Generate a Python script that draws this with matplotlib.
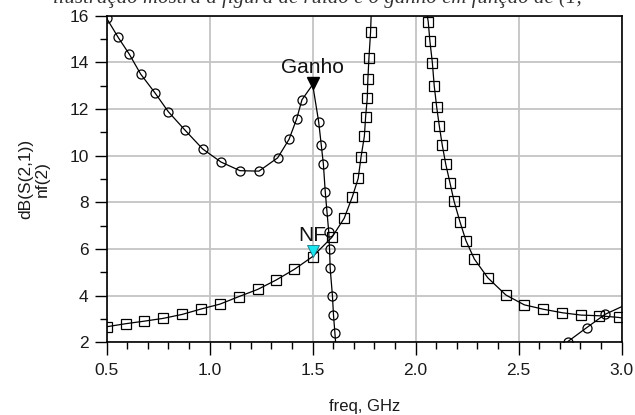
import matplotlib
matplotlib.use("Agg")
import matplotlib.pyplot as plt
import matplotlib.transforms as mtransforms
import numpy as np

plt.rcParams['font.family'] = ['Liberation Sans', 'DejaVu Sans']

# dB(S(2,1)) -- "Ganho" (circles); first/last points of a branch may be clip ends
gain1_f = [0.500, 0.556, 0.610, 0.665, 0.734, 0.799, 0.880, 0.966, 1.055, 1.147,
           1.239, 1.330, 1.385, 1.422, 1.448, 1.500, 1.529, 1.542, 1.552, 1.561,
           1.569, 1.578, 1.582, 1.585, 1.596, 1.601, 1.608, 1.613]
gain1_db = [15.89, 15.07, 14.35, 13.50, 12.70, 11.89, 11.10, 10.29, 9.73, 9.36,
            9.34, 9.91, 10.70, 11.57, 12.40, 13.05, 11.46, 10.44, 9.64, 8.46,
            7.64, 6.74, 5.99, 5.17, 3.99, 3.18, 2.39, 1.80]
gain1_nomark = [15, 27]

gain2_f = [2.738, 2.830, 2.919, 3.000]
gain2_db = [2.03, 2.63, 3.20, 3.53]
gain2_nomark = [3]

# nf(2) (squares)
nf1_f = [0.500, 0.592, 0.683, 0.775, 0.867, 0.958, 1.050, 1.141, 1.233, 1.320,
         1.411, 1.500, 1.593, 1.653, 1.693, 1.721, 1.735, 1.751, 1.757, 1.765,
         1.768, 1.773, 1.781, 1.785]
nf1_db = [2.67, 2.80, 2.91, 3.03, 3.20, 3.43, 3.64, 3.96, 4.27, 4.66,
          5.13, 5.68, 6.50, 7.32, 8.25, 9.03, 9.96, 10.84, 11.67, 12.46,
          13.29, 14.17, 15.29, 16.30]
nf1_nomark = [23]

nf2_f = [2.051, 2.061, 2.069, 2.081, 2.090, 2.102, 2.115, 2.129, 2.146, 2.167,
         2.186, 2.215, 2.244, 2.285, 2.350, 2.438, 2.527, 2.620, 2.712, 2.802,
         2.891, 2.985, 3.000]
nf2_db = [16.30, 15.74, 14.92, 13.99, 13.00, 12.09, 11.26, 10.46, 9.64, 8.82,
          8.06, 7.17, 6.36, 5.57, 4.77, 4.03, 3.61, 3.42, 3.27, 3.17,
          3.14, 3.07, 3.05]
nf2_nomark = [0, 22]

# markers
m_gain = (1.5, 12.88)
m_nf = (1.5, 5.68)


def marks(n, skip):
    return [i for i in range(n) if i not in skip]


def shifted(dy):
    return mtransforms.offset_copy(ax.transData, fig=fig, x=0, y=dy, units='points')


fig = plt.figure(figsize=(6.35, 4.15), dpi=100)
ax = fig.add_axes([0.168, 0.175, 0.811, 0.787])

style = dict(color='black', lw=0.9, mfc='none', mec='black', mew=0.9, ms=6.5)
ax.plot(gain1_f, gain1_db, marker='o', markevery=marks(len(gain1_f), gain1_nomark), **style)
ax.plot(gain2_f, gain2_db, marker='o', markevery=marks(len(gain2_f), gain2_nomark), **style)
ax.plot(nf1_f, nf1_db, marker='s', markevery=marks(len(nf1_f), nf1_nomark), **style)
ax.plot(nf2_f, nf2_db, marker='s', markevery=marks(len(nf2_f), nf2_nomark), **style)

ax.plot(*m_gain, marker='v', ms=8.5, color='black', transform=shifted(4),
        clip_on=False)
ax.plot(*m_nf, marker='v', ms=8.5, mfc='#19e6ee', mec='#207080', mew=0.6,
        transform=shifted(4), clip_on=False)
ax.text(*m_gain, 'Ganho', transform=shifted(11.5), ha='center', va='baseline',
        fontsize=15, color='#111111')
ax.text(*m_nf, 'NF', transform=shifted(11.5), ha='center', va='baseline',
        fontsize=15, color='#111111')

ax.set_xlim(0.5, 3.0)
ax.set_ylim(2, 16)
ax.set_xticks(np.arange(0.5, 3.01, 0.5))
ax.set_xticks(np.arange(0.5, 3.01, 0.1), minor=True)
ax.set_yticks(np.arange(2, 16.1, 2))
ax.set_yticks(np.arange(3, 16, 2), minor=True)
ax.xaxis.set_major_formatter(matplotlib.ticker.FormatStrFormatter('%.1f'))
ax.tick_params(which='major', length=9, width=1.0, labelsize=12.5, colors='black',
               labelcolor='#1a1a1a', pad=4)
ax.tick_params(axis='x', which='major', pad=6)
ax.tick_params(which='minor', length=5, width=1.0)
ax.grid(True, which='major', color='#c4c4c4', lw=1.3)
ax.set_axisbelow(True)
for s in ax.spines.values():
    s.set_linewidth(1.2)

ax.set_xlabel('freq, GHz', fontsize=12, color='#1a1a1a', labelpad=15)
ax.set_ylabel('dB(S(2,1))\nnf(2)', fontsize=12.5, color='#1a1a1a', labelpad=14,
              linespacing=1.15)

# fragment of the document line above the chart, cut off by the image edge
fig.text(0.5, 1 - 3.0 / 415, 'ilustração mostra a figura de ruído e o ganho em função de (1,',
         ha='center', va='baseline', fontsize=15, family='Liberation Serif',
         color='#333333', style='italic')

fig.savefig('out.png', dpi=100)
